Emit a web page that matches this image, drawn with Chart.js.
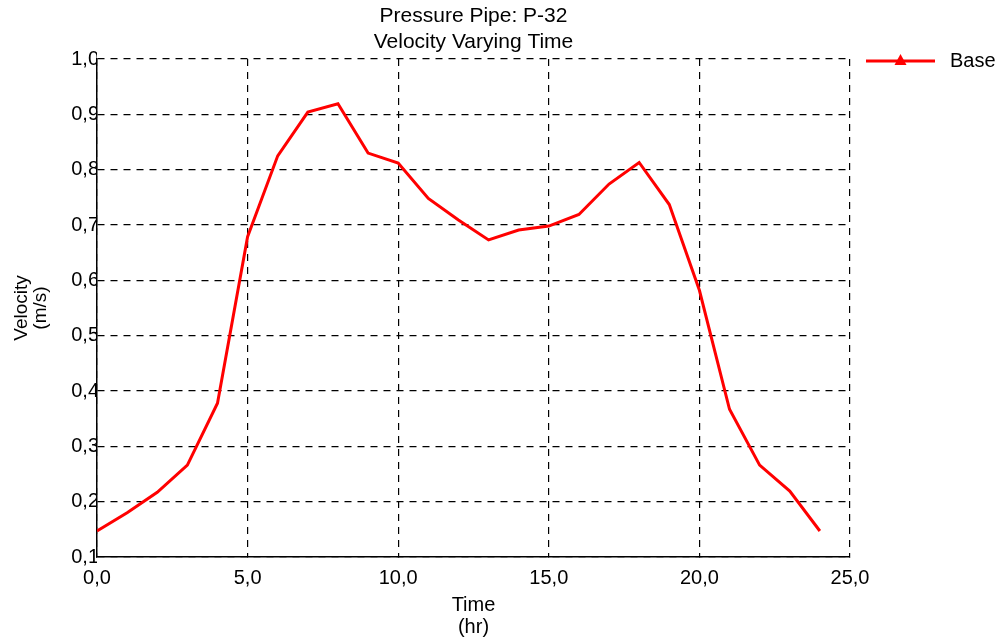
<!DOCTYPE html>
<html>
<head>
<meta charset="utf-8">
<script src="https://cdn.jsdelivr.net/npm/chart.js@4"></script>
<style>
html,body{margin:0;padding:0;background:#fff;}
#wrap{width:995px;height:643px;position:relative;}
</style>
</head>
<body>
<div id="wrap"><canvas id="c" width="995" height="643"></canvas></div>
<script>
const hours = [0,1,2,3,4,5,6,7,8,9,10,11,12,13,14,15,16,17,18,19,20,21,22,23,24];
const velocity = [0.147,0.180,0.217,0.266,0.378,0.679,0.825,0.904,0.919,0.830,0.812,0.748,0.709,0.673,0.691,0.698,0.719,0.774,0.813,0.737,0.582,0.367,0.266,0.219,0.147];
const seriesLabel = 'Base';
const titleLines = ['Pressure Pipe: P-32','Velocity Varying Time'];
const xTitle = ['Time','(hr)'];
const yTitle = ['Velocity','(m/s)'];

const FONT = '"Liberation Sans", Arial, sans-serif';
const fmt = v => Number(v).toFixed(1).replace('.', ',');

// Title centred over the plot area (as in the reference)
const plotTitlePlugin = {
  id: 'plotTitle',
  afterDraw(chart) {
    const ctx = chart.ctx;
    const cx = (chart.chartArea.left + chart.chartArea.right) / 2;
    ctx.save();
    ctx.fillStyle = '#000';
    ctx.font = '21px ' + FONT;
    ctx.textAlign = 'center';
    ctx.textBaseline = 'middle';
    titleLines.forEach((t, i) => ctx.fillText(t, cx, 16 + i * 26));
    ctx.restore();
  }
};

const legendPlugin = {
  id: 'sideLegend',
  afterDraw(chart) {
    const ctx = chart.ctx;
    const ds = chart.data.datasets[0];
    const y = chart.chartArea.top + 2;
    const x0 = chart.chartArea.right + 16, x1 = x0 + 69;
    ctx.save();
    ctx.strokeStyle = ds.borderColor;
    ctx.lineWidth = 3;
    ctx.beginPath(); ctx.moveTo(x0, y); ctx.lineTo(x1, y); ctx.stroke();
    const cx = (x0 + x1) / 2;
    ctx.fillStyle = ds.borderColor;
    ctx.beginPath(); ctx.moveTo(cx, y - 7); ctx.lineTo(cx + 6, y + 4); ctx.lineTo(cx - 6, y + 4); ctx.closePath(); ctx.fill();
    ctx.fillStyle = '#000';
    ctx.font = '20px ' + FONT;
    ctx.textBaseline = 'middle';
    ctx.textAlign = 'left';
    ctx.fillText(ds.label, x1 + 15, y);
    ctx.restore();
  }
};

new Chart(document.getElementById('c'), {
  type: 'line',
  data: {
    datasets: [{
      label: seriesLabel,
      data: hours.map((h, i) => ({x: h, y: velocity[i]})),
      borderColor: '#ff0000',
      backgroundColor: '#ff0000',
      borderWidth: 3,
      pointRadius: 0,
      tension: 0,
      fill: false
    }]
  },
  options: {
    responsive: false,
    animation: false,
    layout: {padding: {left: 0, right: 145, top: 59, bottom: 0}},
    plugins: {
      legend: {display: false},
      tooltip: {enabled: false},
      title: {display: false}
    },
    scales: {
      x: {
        type: 'linear',
        min: 0, max: 25,
        afterFit: s => { s.height = 86; },
        ticks: {stepSize: 5, color: '#000', padding: 9, font: {family: FONT, size: 20}, callback: v => fmt(v), maxRotation: 0},
        grid: {color: '#000', lineWidth: 1.2, tickLength: 0},
        border: {display: true, color: '#000', width: 1.5, dash: [7, 6]},
        title: {display: true, text: xTitle, color: '#000', font: {family: FONT, size: 20, lineHeight: 1.1}, padding: {top: 0, bottom: 5}}
      },
      y: {
        min: 0.1, max: 1.0,
        afterFit: s => { s.width = 97; },
        ticks: {stepSize: 0.1, color: '#000', padding: -2, font: {family: FONT, size: 20}, callback: v => fmt(v)},
        grid: {color: '#000', lineWidth: 1.2, tickLength: 0},
        border: {display: true, color: '#000', width: 1.5, dash: [7, 6]},
        title: {display: true, text: yTitle, color: '#000', font: {family: FONT, size: 19, lineHeight: 1.0}, padding: {top: 12, bottom: 0}}
      }
    }
  },
  plugins: [plotTitlePlugin, legendPlugin]
});
</script>
</body>
</html>
